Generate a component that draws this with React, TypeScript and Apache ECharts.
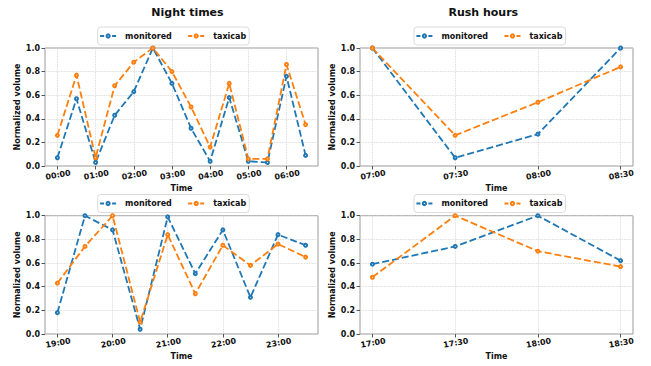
import React, { useEffect, useRef } from "react";
import * as echarts from "echarts";

const nightTimes = ["00:00","00:30","01:00","01:30","02:00","02:30","03:00","03:30","04:00","04:30","05:00","05:30","06:00","06:30"];
const nightMonitored = [0.07,0.57,0.03,0.43,0.63,1.0,0.70,0.32,0.04,0.58,0.04,0.03,0.76,0.09];
const nightTaxicab = [0.26,0.77,0.07,0.68,0.88,1.0,0.80,0.50,0.16,0.70,0.06,0.06,0.86,0.35];

const morningTimes = ["07:00","07:30","08:00","08:30"];
const morningMonitored = [1.0,0.07,0.27,1.0];
const morningTaxicab = [1.0,0.26,0.54,0.84];

const eveningTimes = ["19:00","19:30","20:00","20:30","21:00","21:30","22:00","22:30","23:00","23:30"];
const eveningMonitored = [0.18,1.0,0.88,0.04,0.99,0.51,0.88,0.31,0.84,0.75];
const eveningTaxicab = [0.43,0.74,1.0,0.10,0.84,0.34,0.75,0.58,0.76,0.65];

const rushEveningTimes = ["17:00","17:30","18:00","18:30"];
const rushEveningMonitored = [0.59,0.74,1.0,0.62];
const rushEveningTaxicab = [0.48,1.0,0.70,0.57];

const yTicks = [0, 0.2, 0.4, 0.6, 0.8, 1.0];
const seriesNames = ["monitored", "taxicab"];
const colors = ["#1f77b4", "#ff7f0e"];

type Panel = {
  cats: string[];
  mon: number[];
  taxi: number[];
  labelInterval: number;
  frame: { left: number; top: number; width: number; height: number };
  legendLeft: number;
  legendTop: number;
};

const panels: Panel[] = [
  { cats: nightTimes, mon: nightMonitored, taxi: nightTaxicab, labelInterval: 1,
    frame: { left: 45, top: 48, width: 273, height: 118 }, legendLeft: 97.7, legendTop: 27 },
  { cats: morningTimes, mon: morningMonitored, taxi: morningTaxicab, labelInterval: 0,
    frame: { left: 360, top: 48, width: 273, height: 118 }, legendLeft: 414, legendTop: 27 },
  { cats: eveningTimes, mon: eveningMonitored, taxi: eveningTaxicab, labelInterval: 1,
    frame: { left: 45, top: 215.7, width: 273, height: 118.3 }, legendLeft: 97.7, legendTop: 194.5 },
  { cats: rushEveningTimes, mon: rushEveningMonitored, taxi: rushEveningTaxicab, labelInterval: 0,
    frame: { left: 360, top: 215.7, width: 273, height: 118.3 }, legendLeft: 414, legendTop: 194.5 },
];

const font = "DejaVu Sans";

export default function App() {
  const ref = useRef<HTMLDivElement>(null);
  useEffect(() => {
    if (!ref.current) return;
    const chart = echarts.init(ref.current, undefined, { renderer: "svg" });
    const grid: any[] = [];
    const xAxis: any[] = [];
    const yAxis: any[] = [];
    const series: any[] = [];
    const legend: any[] = [];
    panels.forEach((p, i) => {
      const f = p.frame;
      const off = (f.width * 0.05) / 1.1;
      grid.push({ left: f.left, top: f.top, width: f.width, height: f.height, show: true,
        borderColor: "#9a9a9a", borderWidth: 1, backgroundColor: "transparent" });
      grid.push({ left: f.left + off, top: f.top, width: f.width - 2 * off, height: f.height });
      xAxis.push({ type: "value", gridIndex: 2 * i, show: false, min: 0, max: 1 });
      xAxis.push({
        type: "category", gridIndex: 2 * i + 1, data: p.cats, boundaryGap: false,
        axisLine: { show: false },
        axisTick: { show: true, interval: p.labelInterval, length: 3.5, lineStyle: { color: "#555" } },
        axisLabel: { interval: p.labelInterval, rotate: 10, align: "center", verticalAlign: "top", margin: 5,
          fontFamily: font, fontWeight: "bold", fontSize: 8, color: "#111" },
        splitLine: { show: true, interval: p.labelInterval, lineStyle: { color: "#cfcfcf", type: "dotted", width: 0.8 } },
        name: "Time", nameLocation: "middle", nameGap: 18,
        nameTextStyle: { fontFamily: font, fontWeight: "bold", fontSize: 8, color: "#111" },
      });
      yAxis.push({
        type: "value", gridIndex: 2 * i, min: 0, max: 1, interval: 0.2,
        axisLine: { show: false },
        axisTick: { show: true, length: 3.5, lineStyle: { color: "#555" } },
        axisLabel: { margin: 5, fontFamily: font, fontWeight: "bold", fontSize: 8, color: "#111",
          customValues: yTicks, formatter: (v: number) => v.toFixed(1) },
        splitLine: { show: true, lineStyle: { color: "#cfcfcf", type: "dotted", width: 0.8 } },
        name: "Normalized volume", nameLocation: "middle", nameGap: 22,
        nameTextStyle: { fontFamily: font, fontWeight: "bold", fontSize: 8, color: "#111" },
      });
      yAxis.push({ type: "value", gridIndex: 2 * i + 1, min: 0, max: 1, show: false });
      [p.mon, p.taxi].forEach((vals, k) => {
        series.push({
          type: "line", name: seriesNames[k], xAxisIndex: 2 * i + 1, yAxisIndex: 2 * i + 1,
          data: vals, symbol: "emptyCircle", symbolSize: 3, showSymbol: true,
          lineStyle: { color: colors[k], width: 1.8, type: [7, 3] },
          itemStyle: { color: colors[k], borderWidth: 0.6 },
          z: 3,
        });
      });
      legend.push({
        data: seriesNames, left: p.legendLeft, top: p.legendTop, orient: "horizontal",
        itemWidth: 16, itemHeight: 4, itemGap: 15.5,
        padding: [5, 3, 5, 1.5],
        borderColor: "#dcdcdc", borderWidth: 1, borderRadius: 3,
        itemStyle: { borderWidth: 0.6 },
        lineStyle: { type: [4, 2], width: 1.8 },
        textStyle: { fontFamily: font, fontWeight: "bold", fontSize: 8, color: "#111", padding: [0, 0, 0, 4] },
      });
    });
    chart.setOption({
      animation: false,
      backgroundColor: "#fff",
      title: [
        { text: "Night times", left: 187.5, top: 6.5, textAlign: "center", padding: 0,
          textStyle: { fontFamily: font, fontWeight: "bold", fontSize: 11, color: "#111" } },
        { text: "Rush hours", left: 483.3, top: 6.5, textAlign: "center", padding: 0,
          textStyle: { fontFamily: font, fontWeight: "bold", fontSize: 11, color: "#111" } },
      ],
      legend, grid, xAxis, yAxis, series,
    });
    return () => chart.dispose();
  }, []);
  return <div ref={ref} style={{ position: "fixed", left: 0, top: 0, width: 651, height: 366 }} />;
}
